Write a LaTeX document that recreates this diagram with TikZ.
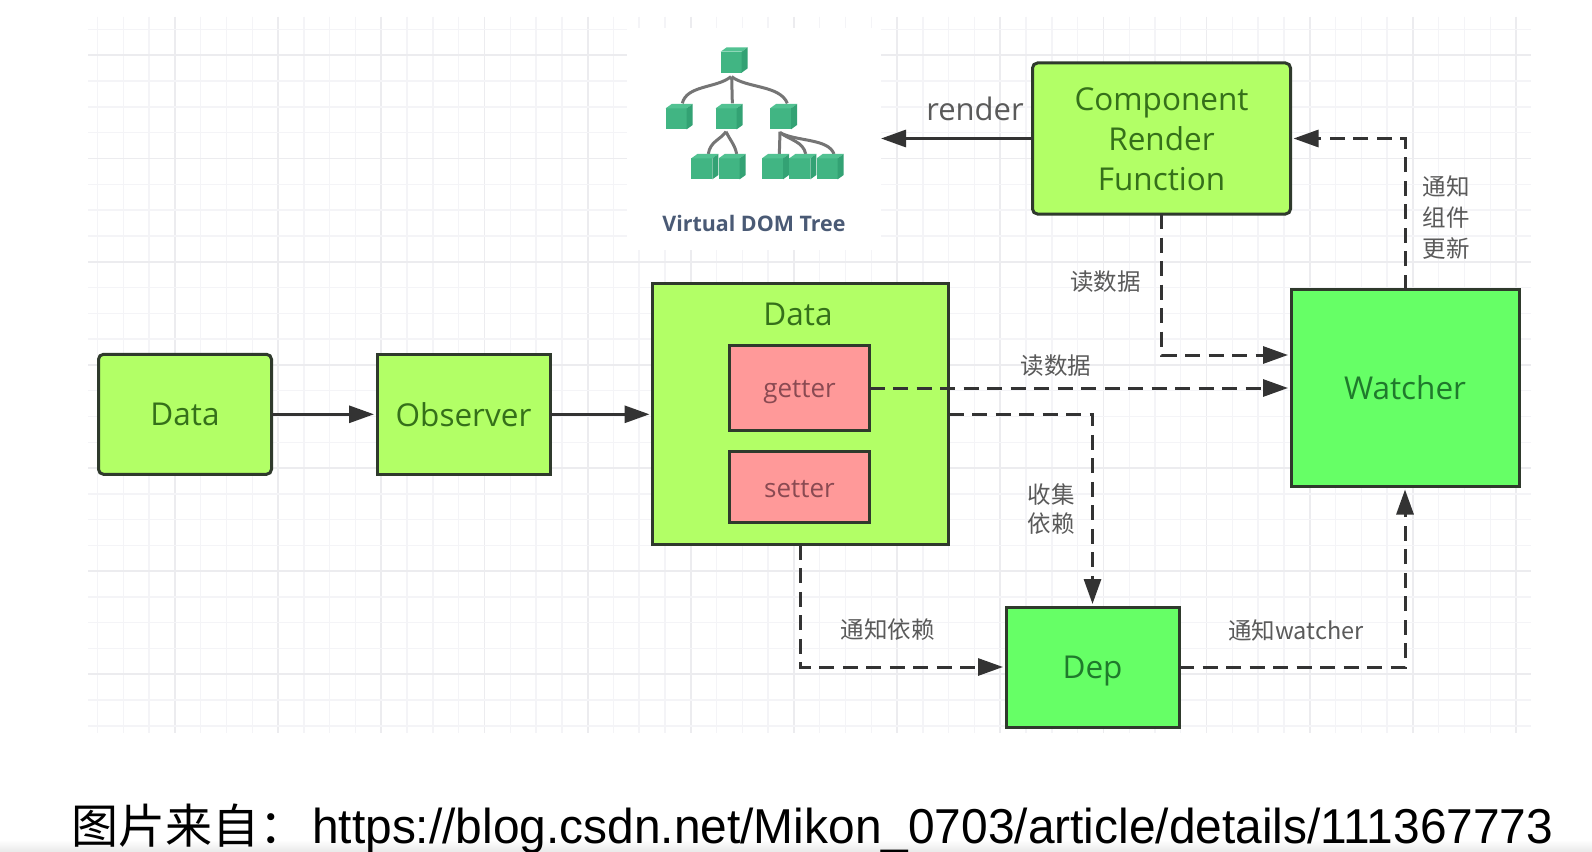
\documentclass[tikz,border=0pt]{standalone}
\usepackage{fontspec}
\usetikzlibrary{arrows.meta,calc}
\setmainfont{Open Sans}
\newfontfamily\cjkfont{Noto Sans CJK SC}
\newfontfamily\arialfont{Liberation Sans}
\newfontfamily\boldsans{Open Sans}[BoldFont={Open Sans Bold}]
\definecolor{lime}{HTML}{B2FF66}
\definecolor{brightgreen}{HTML}{66FF66}
\definecolor{pinkbox}{HTML}{FF9999}
\definecolor{edgedark}{HTML}{2F3A2C}
\definecolor{arrowdark}{HTML}{333333}
\definecolor{gridminor}{HTML}{F4F4F7}
\definecolor{gridmajor}{HTML}{ECECEF}
\definecolor{labelgrey}{HTML}{5A5A5A}
\definecolor{cubefront}{HTML}{41B583}
\definecolor{cubetop}{HTML}{52C292}
\definecolor{cubeside}{HTML}{33A274}
\definecolor{treeline}{HTML}{757575}
\definecolor{limetext}{HTML}{35701A}
\definecolor{greentext}{HTML}{1F7A2C}
\definecolor{pinktext}{HTML}{8A4A52}
\definecolor{domtext}{HTML}{4A5A75}
\newcommand{\greencube}[2]{%
  \fill[cubefront] (#1,#2+13) rectangle ++(63,63);
  \fill[cubetop] (#1,#2+13) -- ++(18,-13) -- ++(63,0) -- ++(-18,13) -- cycle;
  \fill[cubeside] (#1+63,#2+13) -- ++(18,-13) -- ++(0,63) -- ++(-18,13) -- cycle;
}
\newcommand{\lowered}[2]{\raisebox{-#1}[\height][\depth]{#2}}
\tikzset{
  x=1pt,y=-1pt,
  gminor/.style={draw=gridminor,line width=1.4pt},
  gmajor/.style={draw=gridmajor,line width=1.8pt},
  boxbase/.style={draw=edgedark,line width=3pt,inner sep=0pt,outer sep=0pt,align=center,font=\fontsize{31.5}{40}\selectfont},
  limebox/.style={boxbase,fill=lime,text=limetext},
  greenbox/.style={boxbase,fill=brightgreen,text=greentext},
  pinkrect/.style={boxbase,fill=pinkbox,text=pinktext,font=\fontsize{26}{30}\selectfont},
  solidarrow/.style={draw=arrowdark,line width=3pt,-{Triangle[length=25pt,width=17pt]},shorten >=3pt},
  dasharrow/.style={solidarrow,dash pattern=on 15pt off 8.5pt},
  edgelabel/.style={text=labelgrey,inner sep=0pt,font=\cjkfont\fontsize{23.5}{28}\selectfont},
  treeedge/.style={draw=treeline,line width=3pt}
}
\begin{document}
\begin{tikzpicture}
\useasboundingbox (0,0) rectangle (1592,851);
\fill[white] (0,0) rectangle (1592,851);
\shade[top color=white,bottom color=black!8] (0,840) rectangle (1592,851);
% grid
\foreach \k in {0,...,55} {
  \pgfmathsetmacro{\xx}{97.6+25.79*\k}
  \pgfmathtruncatemacro{\mm}{mod(\k+1,4)}
  \ifnum\mm=0 \draw[gmajor] (\xx,17) -- (\xx,733); \else \draw[gminor] (\xx,17) -- (\xx,733); \fi
}
\foreach \k in {0,...,27} {
  \pgfmathsetmacro{\yy}{29.6+25.79*\k}
  \pgfmathtruncatemacro{\mm}{mod(\k+3,4)}
  \ifnum\mm=0 \draw[gmajor] (88,\yy) -- (1531,\yy); \else \draw[gminor] (88,\yy) -- (1531,\yy); \fi
}
\fill[white] (627,28) rectangle (881,250);
% virtual DOM tree icon
\begin{scope}[shift={(620,20)},x=0.33333pt,y=-0.33333pt]
  \draw[treeedge] (333,170) .. controls (290,205) and (200,195) .. (187,250);
  \draw[treeedge] (335,170) -- (337,250);
  \draw[treeedge] (335,170) .. controls (380,205) and (480,195) .. (502,250);
  \draw[treeedge] (318,335) .. controls (300,360) and (270,365) .. (265,402);
  \draw[treeedge] (318,335) .. controls (330,360) and (345,375) .. (350,402);
  \draw[treeedge] (480,335) -- (478,402);
  \draw[treeedge] (480,338) .. controls (510,360) and (550,365) .. (557,402);
  \draw[treeedge] (480,338) .. controls (530,365) and (625,355) .. (642,402);
  \greencube{302}{82}
  \greencube{137}{252}
  \greencube{287}{252}
  \greencube{450}{252}
  \greencube{214}{402}
  \greencube{296}{402}
  \greencube{426}{402}
  \greencube{508}{402}
  \greencube{590}{402}
\end{scope}
\node[text=domtext,inner sep=0pt,font=\boldsans\bfseries\fontsize{21.4}{25}\selectfont] (vdomlabel) at (754,223.5) {Virtual DOM Tree};
% nodes
\node[limebox,rounded corners=5pt,minimum width=173pt,minimum height=120pt] (datasrc) at (185,414.3) {Data};
\node[limebox,minimum width=173pt,minimum height=120pt] (observer) at (463.5,414.3) {Observer};
\node[limebox,minimum width=296pt,minimum height=261pt] (reactive) at (800.5,414.3) {};
\node[limebox,draw=none,fill=none,inner sep=0pt] (reactivetitle) at (798,314) {Data};
\node[pinkrect,minimum width=140pt,minimum height=85.5pt] (getter) at (799.5,388) {\lowered{4pt}{getter}};
\node[pinkrect,minimum width=140pt,minimum height=71pt] (setter) at (799.5,487.4) {\lowered{2pt}{setter}};
\node[limebox,rounded corners=5pt,minimum width=258pt,minimum height=151pt] (component) at (1161.5,138.5) {\lowered{1pt}{Component}\\\lowered{1pt}{Render}\\\lowered{1pt}{Function}};
\node[greenbox,minimum width=228pt,minimum height=197pt] (watcher) at (1405,388) {Watcher};
\node[greenbox,minimum width=173pt,minimum height=120pt] (dep) at (1092.5,667) {\lowered{4pt}{Dep}};
\coordinate (rendertip) at (878,138.5);
\coordinate (readin) at ($(watcher.west)+(0,-33)$);
% connectors
\draw[solidarrow] (datasrc) -- (observer);
\draw[solidarrow] (observer) -- (reactive);
\draw[solidarrow] (component.west) -- (rendertip);
\draw[dasharrow] (watcher.north) |- (component.east);
\draw[dasharrow] (component.south) |- (readin);
\draw[dasharrow] (getter.east) -- (watcher.west);
\draw[dasharrow] (reactive.east) -| (dep.north);
\draw[dasharrow] (reactive.south) |- (dep.west);
\draw[dasharrow] (dep.east) -| (watcher.south);
% labels
\node[text=labelgrey,inner sep=0pt,font=\fontsize{31}{36}\selectfont] (renderlabel) at (975,108.5) {render};
\node[edgelabel] (readone) at (1105.7,281.5) {读数据};
\node[edgelabel] (readtwo) at (1056,365.5) {读数据};
\node[edgelabel] (collectone) at (1051,494.5) {收集};
\node[edgelabel] (collecttwo) at (1051,524) {依赖};
\node[edgelabel] (noticeone) at (1446,187) {通知};
\node[edgelabel] (noticetwo) at (1446,217.5) {组件};
\node[edgelabel] (noticethree) at (1446,249) {更新};
\node[edgelabel] (noticedep) at (887.5,629.5) {通知依赖};
\node[edgelabel] (noticewatcher) at (1296,630.5) {通知watcher};
\node[anchor=base west,inner sep=0pt,text=black] (source) at (71,843) {\cjkfont\fontsize{47}{52}\selectfont 图片来自：\hspace{6pt}\arialfont\fontsize{49}{52}\selectfont\scalebox{0.977}[1]{https://blog.csdn.net/Mikon\_0703/article/details/111367773}};
\end{tikzpicture}
\end{document}
